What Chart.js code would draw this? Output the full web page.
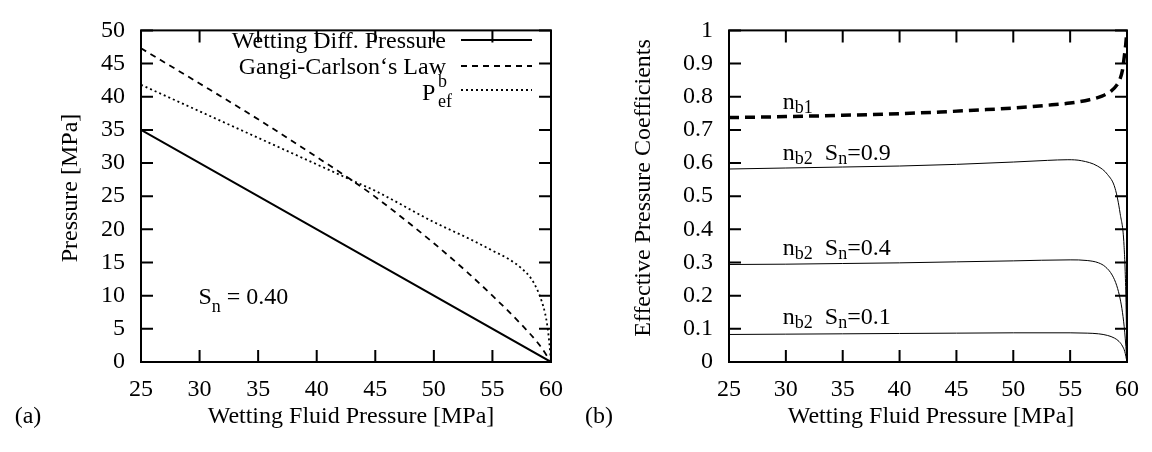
<!DOCTYPE html>
<html>
<head>
<meta charset="utf-8">
<script src="https://cdn.jsdelivr.net/npm/chart.js@4/dist/chart.umd.min.js"></script>
<style>
  body { margin: 0; background: #fff; }
  .box { position: absolute; top: 0; width: 576px; height: 452px; }
</style>
</head>
<body>
<div class="box" style="left:0"><canvas id="plotA"></canvas></div>
<div class="box" style="left:576px"><canvas id="plotB"></canvas></div>
<script>
// (a) pressures vs wetting fluid pressure
const wetX = [25, 60];
const wetDiff = [35, 0];
const gangiX = [25, 30, 35, 40, 43, 45, 50, 53, 55, 57.5, 59, 60];
const gangiLaw = [47.3, 42.0, 36.6, 30.9, 27.4, 24.9, 17.9, 13.3, 10.0, 5.6, 2.6, 0];
const pefX = [25, 30, 35, 40, 43, 45, 50, 53, 55, 56.5, 57.5, 58.3, 58.8, 59.2, 59.5, 59.7, 59.85, 60];
const pefB = [41.8, 37.8, 33.8, 29.8, 27.4, 25.8, 21.1, 18.6, 16.8, 15.4, 14.1, 12.6, 11.0, 9.2, 7.3, 5.3, 3.0, 0];

// (b) effective pressure coefficients
const nb1X = [25, 30, 35, 40, 43.6, 47, 50, 52.9, 55, 56.7, 57.8, 58.6, 59.1, 59.4, 59.6, 59.74, 59.88, 60];
const nb1 = [0.737, 0.740, 0.744, 0.749, 0.754, 0.760, 0.766, 0.774, 0.781, 0.791, 0.802, 0.817, 0.835, 0.855, 0.88, 0.915, 0.955, 1.0];
const sn09X = [25, 30, 35, 40, 45, 50, 53, 54.8, 56, 57.4, 58.3, 58.95, 59.4, 59.74, 59.9, 60];
const nb2Sn09 = [0.582, 0.585, 0.588, 0.591, 0.596, 0.603, 0.608, 0.610, 0.607, 0.591, 0.565, 0.524, 0.447, 0.351, 0.2, 0];
const sn04X = [25, 30, 35, 40, 45, 50, 55, 56.5, 57.5, 58.1, 58.7, 59.1, 59.4, 59.6, 59.8, 60];
const nb2Sn04 = [0.294, 0.295, 0.297, 0.299, 0.302, 0.305, 0.308, 0.306, 0.299, 0.287, 0.262, 0.230, 0.19, 0.15, 0.09, 0];
const sn01X = [25, 30, 35, 40, 45, 50, 55, 56.5, 57.5, 58.3, 58.9, 59.3, 59.6, 59.8, 60];
const nb2Sn01 = [0.083, 0.084, 0.085, 0.086, 0.087, 0.088, 0.088, 0.087, 0.085, 0.080, 0.072, 0.062, 0.048, 0.032, 0];

const legendLabels = ["Wetting Diff. Pressure", "Gangi-Carlson\u2018s Law"];

const SERIF = "'Liberation Serif', 'DejaVu Serif', serif";
const TICK = 12;
const DASH = [6, 5];
const DOT = [2, 3];

const pts = (xs, ys) => xs.map((x, i) => ({ x: x, y: ys[i] }));

// text pieces: [text, size, dy]
function rich(ctx, x, y, parts) {
  let cx = x;
  parts.forEach(p => {
    ctx.font = p[1] + "px " + SERIF;
    ctx.fillText(p[0], cx, y + (p[2] || 0));
    cx += ctx.measureText(p[0]).width;
  });
  return cx;
}

// frame with inward ticks on all four sides
const framePlugin = {
  id: "frame",
  afterDatasetsDraw(chart) {
    const { ctx, chartArea: a, scales: { x, y } } = chart;
    ctx.save();
    ctx.strokeStyle = "#000";
    ctx.lineWidth = 2;
    ctx.setLineDash([]);
    ctx.beginPath();
    x.ticks.forEach(t => {
      const p = x.getPixelForValue(t.value);
      ctx.moveTo(p, a.bottom); ctx.lineTo(p, a.bottom - TICK);
      ctx.moveTo(p, a.top); ctx.lineTo(p, a.top + TICK);
    });
    y.ticks.forEach(t => {
      const p = y.getPixelForValue(t.value);
      ctx.moveTo(a.left, p); ctx.lineTo(a.left + TICK, p);
      ctx.moveTo(a.right, p); ctx.lineTo(a.right - TICK, p);
    });
    ctx.stroke();
    ctx.strokeRect(a.left, a.top, a.right - a.left, a.bottom - a.top);
    ctx.restore();
  }
};

function options(yMax, yStep, yWidth, rightPad) {
  const tickFont = { family: SERIF, size: 24 };
  return {
    responsive: true,
    maintainAspectRatio: false,
    animation: false,
    layout: { padding: { left: 0, right: rightPad, top: 15, bottom: 0 } },
    plugins: { legend: { display: false }, tooltip: { enabled: false } },
    elements: { point: { radius: 0 }, line: { cubicInterpolationMode: "monotone", borderColor: "#000" } },
    scales: {
      x: {
        type: "linear", min: 25, max: 60,
        ticks: { stepSize: 5, color: "#000", font: tickFont, padding: 13, maxRotation: 0, autoSkip: false },
        grid: { display: false, drawTicks: false }, border: { display: false },
        afterFit: s => { s.height = 90; }
      },
      y: {
        type: "linear", min: 0, max: yMax,
        ticks: {
          stepSize: yStep, color: "#000", font: tickFont, padding: 16, autoSkip: false,
          callback: v => String(Math.round(v * 10) / 10)
        },
        grid: { display: false, drawTicks: false }, border: { display: false },
        afterFit: s => { s.width = yWidth; }
      }
    }
  };
}

// ---- (a)
const textA = {
  id: "textA",
  afterDraw(chart) {
    const { ctx, scales: { x, y } } = chart;
    ctx.save();
    ctx.fillStyle = "#000";
    ctx.textBaseline = "middle";
    ctx.textAlign = "center";
    ctx.font = "24px " + SERIF;
    ctx.fillText("Wetting Fluid Pressure [MPa]", 351, 417);
    ctx.fillText("(a)", 28, 417);
    ctx.save();
    ctx.translate(71, 188);
    ctx.rotate(-Math.PI / 2);
    ctx.fillText("Pressure [MPa]", 0, 0);
    ctx.restore();

    // legend
    ctx.textBaseline = "alphabetic";
    ctx.textAlign = "right";
    const rows = [40, 66, 90];
    ctx.fillText(legendLabels[0], 446, rows[0] + 8);
    ctx.fillText(legendLabels[1], 446, rows[1] + 8);
    ctx.textAlign = "left";
    ctx.fillText("P", 422, 100);
    ctx.font = "18px " + SERIF;
    ctx.fillText("b", 438, 87);
    ctx.fillText("ef", 438, 107);
    ctx.strokeStyle = "#000";
    [[], DASH, DOT].forEach((d, i) => {
      ctx.setLineDash(d);
      ctx.lineWidth = d.length ? 1.8 : 2;
      ctx.beginPath();
      ctx.moveTo(461, rows[i]);
      ctx.lineTo(532, rows[i]);
      ctx.stroke();
    });
    ctx.setLineDash([]);

    // saturation note
    rich(ctx, x.getPixelForValue(29.9), y.getPixelForValue(8.8),
      [["S", 24], ["n", 18, 8], [" = 0.40", 24]]);
    ctx.restore();
  }
};

new Chart(document.getElementById("plotA"), {
  type: "scatter",
  data: {
    datasets: [
      { data: pts(wetX, wetDiff), showLine: true, borderWidth: 2 },
      { data: pts(gangiX, gangiLaw), showLine: true, borderWidth: 1.8, borderDash: DASH },
      { data: pts(pefX, pefB), showLine: true, borderWidth: 1.8, borderDash: DOT }
    ]
  },
  options: options(50, 5, 141, 14),
  plugins: [framePlugin, textA]
});

// ---- (b)
const textB = {
  id: "textB",
  afterDraw(chart) {
    const { ctx, scales: { x, y } } = chart;
    ctx.save();
    ctx.fillStyle = "#000";
    ctx.textBaseline = "middle";
    ctx.textAlign = "center";
    ctx.font = "24px " + SERIF;
    ctx.fillText("Wetting Fluid Pressure [MPa]", 355, 417);
    ctx.fillText("(b)", 23, 417);
    ctx.save();
    ctx.translate(68, 188);
    ctx.rotate(-Math.PI / 2);
    ctx.fillText("Effective Pressure Coefficients", 0, 0);
    ctx.restore();

    ctx.textBaseline = "alphabetic";
    ctx.textAlign = "left";
    const lx = x.getPixelForValue(29.73);
    rich(ctx, lx, y.getPixelForValue(0.763), [["n", 24], ["b1", 18, 4]]);
    [[0.61, "0.9"], [0.3225, "0.4"], [0.115, "0.1"]].forEach(r => {
      rich(ctx, lx, y.getPixelForValue(r[0]),
        [["n", 24], ["b2", 18, 4], ["  S", 24], ["n", 18, 4], ["=" + r[1], 24]]);
    });
    ctx.restore();
  }
};

new Chart(document.getElementById("plotB"), {
  type: "scatter",
  data: {
    datasets: [
      { data: pts(nb1X, nb1), showLine: true, borderWidth: 3.5, borderDash: [10, 6] },
      { data: pts(sn09X, nb2Sn09), showLine: true, borderWidth: 1 },
      { data: pts(sn04X, nb2Sn04), showLine: true, borderWidth: 1 },
      { data: pts(sn01X, nb2Sn01), showLine: true, borderWidth: 1 }
    ]
  },
  options: options(1, 0.1, 153, 16),
  plugins: [framePlugin, textB]
});
</script>
</body>
</html>
